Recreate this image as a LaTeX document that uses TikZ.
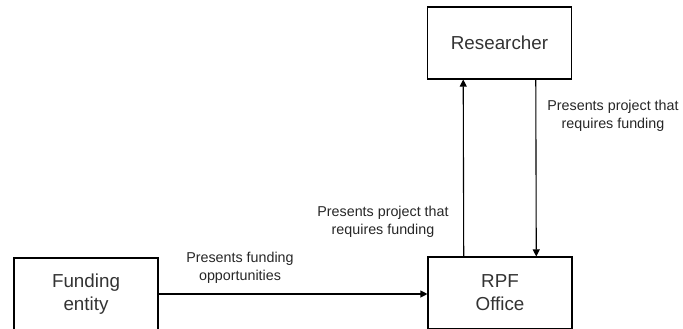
\documentclass[tikz,border=0pt]{standalone}
\usepackage{fontspec}
\setmainfont{Liberation Sans}
\usetikzlibrary{arrows.meta,calc}
\begin{document}
\begin{tikzpicture}[x=1pt,y=-1pt,
    box/.style={draw,line width=1.1pt,minimum width=144pt,minimum height=72pt,
      align=center,font=\fontsize{18.8}{23}\selectfont,text=black!80},
    note/.style={align=center,font=\fontsize{14.3}{18.5}\selectfont,text=black!85},
    flow/.style={line width=1.1pt,-{Triangle[length=7pt,width=7pt]}}]
      \useasboundingbox (0,0) rectangle (683,329);
      \clip (0,0) rectangle (683,329);
      \draw
        (499.5,43) node[box] (res){Researcher}
        (500,293) node[box] (rpf){RPF\\Office}
        (86,294) node[box] (fund){Funding\\entity};
      \draw
        (613,116) node[note] (down){Presents project that\\requires funding}
        (383,222) node[note] (up){Presents project that\\requires funding}
        (240,268) node[note] (offer){Presents funding\\opportunities};
      \begin{scope}[flow]
        \draw ($(rpf.north west)!0.25!(rpf.north east)$) to ($(res.south west)!0.25!(res.south east)$);
        \draw ($(res.south west)!0.75!(res.south east)$) to ($(rpf.north west)!0.75!(rpf.north east)$);
        \draw (fund.east) to (fund.east -| rpf.west);
      \end{scope}
    \end{tikzpicture}
\end{document}
